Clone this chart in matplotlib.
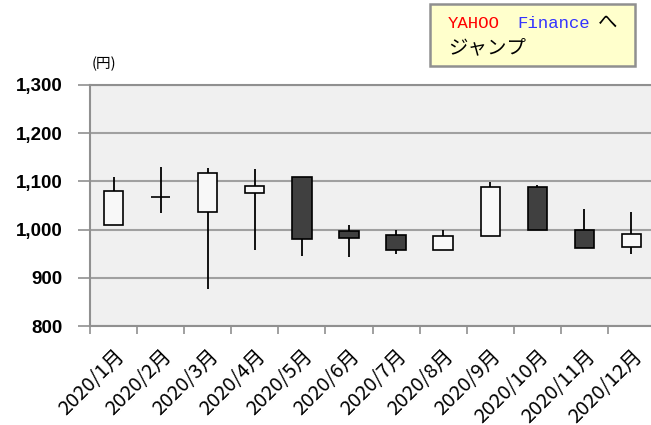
import matplotlib.pyplot as plt
import matplotlib.transforms as mtrans
from matplotlib.patches import Rectangle
from matplotlib.ticker import FuncFormatter, FixedLocator

months = ['2020/1月', '2020/2月', '2020/3月', '2020/4月', '2020/5月', '2020/6月',
          '2020/7月', '2020/8月', '2020/9月', '2020/10月', '2020/11月', '2020/12月']
open_ = [1010, 1068, 1037, 1076, 1110, 997, 988, 957, 986, 1088, 1000, 964]
high = [1109, 1130, 1128, 1126, 1110, 1009, 1000, 999, 1099, 1093, 1043, 1037]
low = [1010, 1035, 877, 958, 946, 943, 950, 957, 986, 999, 961, 950]
close = [1080, 1068, 1117, 1091, 981, 983, 957, 986, 1088, 999, 961, 990]

W, H = 651, 425
fig = plt.figure(figsize=(W / 100, H / 100), dpi=100)
fig.patch.set_facecolor('white')
ax = fig.add_axes([90 / W, (H - 326) / H, (655 - 90) / W, (326 - 85) / H])
ax.set_facecolor('#f0f0f0')

x = list(range(len(months)))
ax.vlines(x, low, high, color='black', lw=1.3, zorder=3)
for i in x:
    up = close[i] >= open_[i]
    ax.bar(i, close[i] - open_[i], bottom=open_[i], width=0.41,
           color='#f8f8f8' if up else '#404040', edgecolor='black', lw=1.2, zorder=4)

ax.set_xlim(-0.5, len(months) - 0.5)
ax.set_ylim(800, 1300)
ax.set_yticks(range(800, 1301, 100))
ax.yaxis.set_major_formatter(FuncFormatter(lambda v, p: f'{int(v):,}'))
ax.grid(axis='y', color='#a0a0a0', lw=1.5, zorder=1)
ax.set_axisbelow(True)

ax.set_xticks(x)
ax.set_xticklabels(months, rotation=45, ha='right', rotation_mode='anchor',
                   family=['Noto Sans CJK JP', 'DejaVu Sans'], fontsize=14.5)
shift = mtrans.ScaledTranslation(-9 / 100, 0, fig.dpi_scale_trans)
for lab in ax.get_xticklabels():
    lab.set_transform(lab.get_transform() + shift)
ax.xaxis.set_minor_locator(FixedLocator([i - 0.5 for i in range(len(months) + 1)]))
ax.tick_params(axis='x', which='major', length=0, pad=14)
ax.tick_params(axis='x', which='minor', length=6, color='#909090', width=1.2)
ax.tick_params(axis='y', length=9, color='#909090', width=1.2, pad=11)
for lab in ax.get_yticklabels():
    lab.set_family('Liberation Sans')
    lab.set_fontweight('bold')
    lab.set_fontsize(13.5)

for s in ax.spines.values():
    s.set_color('#909090')
    s.set_linewidth(1.5)

fig.text(92 / W, 1 - 68 / H, '(円)', family=['Noto Sans CJK JP'], fontsize=10.5)

# link box
fig.patches.append(Rectangle((430 / W, 1 - 66 / H), 205 / W, 62 / H, transform=fig.transFigure,
                             facecolor='#ffffcc', edgecolor='#909090', lw=1.8))
fig.text(448 / W, 1 - 23 / H, 'YAHOO', color='red', family='Liberation Mono', fontsize=12.5, va='center')
fig.text(517 / W, 1 - 23 / H, 'Finance', color='#3333ff', family='Liberation Mono', fontsize=12.5, va='center')
fig.text(598 / W, 1 - 23 / H, 'へ', color='black', family='Noto Sans CJK JP', fontsize=14, va='center')
fig.text(448 / W, 1 - 48 / H, 'ジャンプ', color='black', family='Noto Sans CJK JP', fontsize=14, va='center')

fig.savefig('out.png', dpi=100)
